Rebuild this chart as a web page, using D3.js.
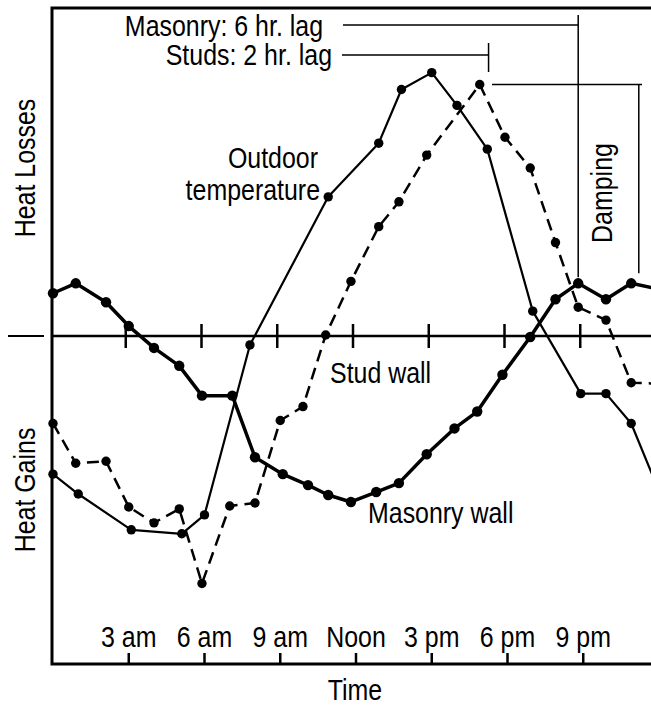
<!DOCTYPE html>
<html>
<head>
<meta charset="utf-8">
<script src="https://cdn.jsdelivr.net/npm/d3@7/dist/d3.min.js"></script>
<style>
  body { margin: 0; background: #fff; }
  text { font-family: "Liberation Sans", Arial, sans-serif; font-size: 29px; fill: #000; }
</style>
</head>
<body>
<div id="chart"></div>
<script>
// hours of day (0 = midnight) and relative heat flow (+ = losses, - = gains)
const tempHours = [0, 1, 3.1, 5.1, 6, 7.8, 10.9, 12.9, 13.8, 15, 16, 17.2, 19, 20.9, 21.9, 22.9, 24];
const tempValues = [-13.9, -15.9, -19.5, -19.9, -18.0, -0.9, 14.0, 19.4, 24.8, 26.5, 23.2, 18.8, 2.5, -5.8, -5.8, -8.8, -15.6];

const studHours = [0, 0.9, 2.1, 3, 4, 5, 5.9, 7, 8, 9, 9.9, 10.8, 11.8, 12.9, 13.7, 14.8, 16.9, 17.9, 18.9, 19.9, 20.8, 21.9, 22.9, 24];
const studValues = [-8.8, -12.8, -12.6, -17.2, -18.8, -17.4, -24.9, -17.1, -16.8, -8.5, -7.1, 0.1, 5.5, 11.0, 13.5, 18.2, 25.3, 20.0, 16.9, 9.4, 2.9, 1.6, -4.7, -4.8];

const masonryHours = [0, 0.9, 2.1, 3, 4, 5, 5.9, 7.1, 8, 9.1, 10.1, 10.9, 11.8, 12.8, 13.7, 14.8, 15.9, 16.8, 17.8, 18.9, 19.9, 20.8, 21.9, 22.9, 24];
const masonryValues = [4.3, 5.3, 3.4, 1.0, -1.2, -3.0, -6.0, -6.0, -12.2, -13.9, -15.0, -16.0, -16.7, -15.7, -14.8, -11.9, -9.3, -7.6, -3.9, -0.1, 3.7, 5.3, 3.7, 5.3, 4.7];

const tickHours = [3, 6, 9, 12, 15, 18, 21];
const tickLabels = ["3 am", "6 am", "9 am", "Noon", "3 pm", "6 pm", "9 pm"];

let width = 651;
let height = 706;
const narrow = 0.86; // no condensed font installed, squeeze regular one

const svg = d3.select('#chart').append('svg')
    .attr("width", width)
    .attr("height", height);

const x = d3.scaleLinear().domain([0, 24]).range([53, 659]);
const y = d3.scaleLinear().domain([-33, 33]).range([664, 8]);

const zip = (hs, vs) => hs.map((h, i) => ({ h: h, v: vs[i] }));
const line = d3.line().x(d => x(d.h)).y(d => y(d.v));

function label(tx, ty, str, anchor, rot) {
    return svg.append("text")
        .attr("transform", `translate(${tx},${ty}) rotate(${rot || 0}) scale(${narrow},1)`)
        .attr("text-anchor", anchor || "start")
        .text(str);
}

// frame: left axis, top edge, bottom axis
svg.append("path")
    .attr("d", `M${width},8H52V664H${width}`)
    .attr("fill", "none").attr("stroke", "#000").attr("stroke-width", 3);

// zero line with hour ticks
svg.append("line").attr("x1", 8).attr("x2", 44).attr("y1", y(0)).attr("y2", y(0))
    .attr("stroke", "#000").attr("stroke-width", 2);
svg.append("line").attr("x1", 52).attr("x2", width).attr("y1", y(0)).attr("y2", y(0))
    .attr("stroke", "#000").attr("stroke-width", 2.5);
svg.selectAll(".zt").data(tickHours).enter().append("line")
    .attr("class", "zt")
    .attr("x1", d => x(d) - 3).attr("x2", d => x(d) - 3)
    .attr("y1", y(0) - 12).attr("y2", y(0) + 12)
    .attr("stroke", "#000").attr("stroke-width", 2.5);

// bottom axis ticks + labels
svg.selectAll(".bt").data(tickHours).enter().append("line")
    .attr("class", "bt")
    .attr("x1", d => x(d)).attr("x2", d => x(d))
    .attr("y1", 653).attr("y2", 664)
    .attr("stroke", "#000").attr("stroke-width", 2.5);
tickHours.forEach((h, i) => label(x(h), 647, tickLabels[i], "middle"));

// series
const series = [
    { data: zip(tempHours, tempValues), sw: 2.2, dash: null, r: 4.7 },
    { data: zip(studHours, studValues), sw: 2.5, dash: "12,7", r: 4.7 },
    { data: zip(masonryHours, masonryValues), sw: 3.5, dash: null, r: 5.2 }
];
series.forEach(s => {
    svg.append("path")
        .attr("d", line(s.data))
        .attr("fill", "none").attr("stroke", "#000")
        .attr("stroke-width", s.sw)
        .attr("stroke-linejoin", "round")
        .attr("stroke-dasharray", s.dash);
    svg.append("g").selectAll("circle")
        .data(s.data.filter(d => d.h < 24))
        .enter().append("circle")
        .attr("cx", d => x(d.h)).attr("cy", d => y(d.v))
        .attr("r", s.r).attr("fill", "#000");
});

// lag / damping annotations
const masonryPeakH = 20.8, studPeakH = 17.25, dampH = 23.2;
const studMax = d3.max(studValues), masonryMax = d3.max(masonryValues);
const ann = svg.append("g").attr("stroke", "#000").attr("stroke-width", 1.5).attr("fill", "none");
ann.append("path").attr("d", `M343,25H${x(masonryPeakH)}M${x(masonryPeakH)},15V${y(masonryMax) - 6}`);
ann.append("path").attr("d", `M342,55H${x(studPeakH)}M${x(studPeakH)},43V72`);
ann.append("path").attr("d", `M492,${y(studMax)}H642M${x(dampH)},${y(studMax)}V${y(masonryMax) - 10}`);

label(323, 36, "Masonry: 6 hr. lag", "end");
label(332, 65, "Studs: 2 hr. lag", "end");
label(612, 193, "Damping", "middle", -90);

// labels
label(318, 168, "Outdoor", "end");
label(320, 200, "temperature", "end");
label(330, 383, "Stud wall");
label(368, 523, "Masonry wall");
label(355, 700, "Time", "middle");
label(35, 168, "Heat Losses", "middle", -90);
label(35, 490, "Heat Gains", "middle", -90);
</script>
</body>
</html>
